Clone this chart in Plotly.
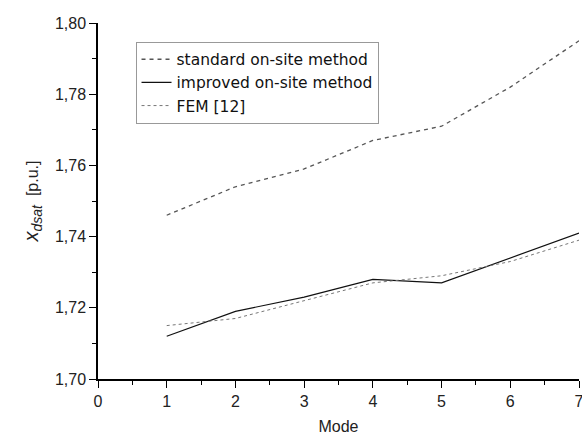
import plotly.graph_objects as go

modes = [1, 2, 3, 4, 5, 6, 7]
standard = [1.746, 1.754, 1.759, 1.767, 1.771, 1.782, 1.795]
improved = [1.712, 1.719, 1.723, 1.728, 1.727, 1.734, 1.741]
fem = [1.715, 1.717, 1.722, 1.727, 1.729, 1.733, 1.739]

FONT = "Liberation Sans, Arial"

fig = go.Figure()
fig.add_trace(go.Scatter(x=modes, y=standard, mode="lines", name="standard on-site method",
                         line=dict(color="#555555", width=1.3, dash="4px,4px")))
fig.add_trace(go.Scatter(x=modes, y=improved, mode="lines", name="improved on-site method",
                         line=dict(color="#111111", width=1.2)))
fig.add_trace(go.Scatter(x=modes, y=fem, mode="lines", name="FEM [12]",
                         line=dict(color="#777777", width=1, dash="dot")))

axis_common = dict(showline=True, linecolor="black", linewidth=1.5, showgrid=False, zeroline=False,
                   ticks="outside", ticklen=7, tickwidth=1.2, tickcolor="black",
                   ticklabeloverflow="allow", automargin=False,
                   tickfont=dict(family=FONT, size=16, color="#222222"),
                   minor=dict(ticks="outside", ticklen=4, tickwidth=1, tickcolor="black"))

fig.update_layout(
    width=582, height=435,
    margin=dict(l=98, r=3, t=23, b=56),
    paper_bgcolor="white", plot_bgcolor="white",
    separators=",.",
    showlegend=True,
    legend=dict(x=0.078, y=0.9475, xanchor="left", yanchor="top",
                bordercolor="#999999", borderwidth=1, bgcolor="white",
                font=dict(family="DejaVu Sans", size=15.5, color="#111111"),
                tracegroupgap=0),
    xaxis=dict(range=[0, 7], dtick=1, tick0=0,
               title=dict(text="Mode", font=dict(family=FONT, size=16, color="#222222"),
                          standoff=16),
               **axis_common),
    yaxis=dict(range=[1.70, 1.80], dtick=0.02, tick0=1.70, tickformat=".2f",
               title=dict(text="<span style='font-size:20px'><i>x</i><sub><i>dsat</i></sub></span>  [p.u.]",
                          font=dict(family=FONT, size=16, color="#222222"),
                          standoff=12),
               **axis_common),
)
fig.update_xaxes(minor=dict(dtick=0.5))
fig.update_yaxes(minor=dict(dtick=0.01))

fig.write_html("out.html")
